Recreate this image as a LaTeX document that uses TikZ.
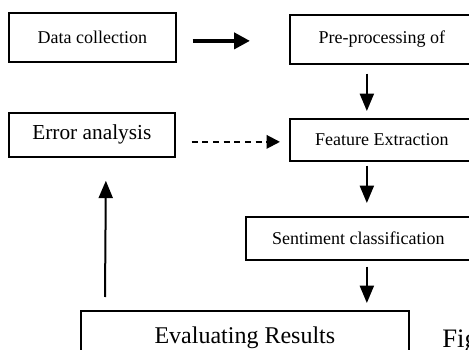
\documentclass[tikz,border=0pt]{standalone}
\usepackage{fontspec}
\setmainfont{Liberation Serif}
\usetikzlibrary{positioning, calc}
\usetikzlibrary{arrows.meta}

\begin{document}
\begin{tikzpicture}[x=0.75pt, y=-0.75pt, >={Triangle[length=13pt, width=10.5pt]},
        box/.style={draw, line width=1.3pt, inner sep=0pt, anchor=north west},
        flow/.style={->, line width=1.5pt}]
        \useasboundingbox (0,0) rectangle (469,350);
        \clip (0,0) rectangle (469,350);

        % Boxes
        \node[box, minimum width=125.25pt, minimum height=36.75pt, font=\fontsize{13.5}{16}\selectfont] (data) at (8,12) {Data collection};
        \node[box, minimum width=138pt, minimum height=36.75pt, font=\fontsize{13.5}{16}\selectfont] (pre) at (289,14) {Pre-processing of};
        \node[box, minimum width=124.5pt, minimum height=33pt, font=\fontsize{16}{19}\selectfont] (err) at (8,112) {Error analysis};
        \node[box, minimum width=138pt, minimum height=31.5pt, font=\fontsize{13.5}{16}\selectfont] (feat) at (289,118) {Feature Extraction};
        \node[box, minimum width=168.75pt, minimum height=32.25pt, font=\fontsize{13.5}{16}\selectfont] (sent) at (245,216) {Sentiment classification};
        \node[box, minimum width=246pt, minimum height=41pt, font=\fontsize{18}{21}\selectfont] (eval) at (80,310) {Evaluating Results};
        \node[anchor=base west, inner sep=0pt, font=\fontsize{20}{24}\selectfont] (fig) at (442,347) {Fig};

        % Arrows
        \draw[->, line width=3pt, >={Triangle[length=12pt, width=12pt]}] ($(data.east)+(16,3.5)$) -- ($(pre.west)+(-39,1.5)$);
        \draw[flow] ($(pre.south)+(-15,9)$) -- ($(feat.north)+(-15,-7)$);
        \draw[->, line width=1.5pt, dash pattern=on 4.5pt off 3.5pt, >={Triangle[length=10pt, width=10pt]}] ($(err.east)+(16,7)$) -- ($(feat.west)+(-9,2)$);
        \draw[flow] ($(feat.south)+(-15,4)$) -- ($(sent.north)+(8.5,-13)$);
        \draw[flow] ($(sent.south)+(8.5,6)$) -- ($(eval.north)+(122,-7)$);
        \draw[flow] ($(eval.north west)+(25,-13)$) -- ($(err.south)+(14,23)$);
\end{tikzpicture}
\end{document}
